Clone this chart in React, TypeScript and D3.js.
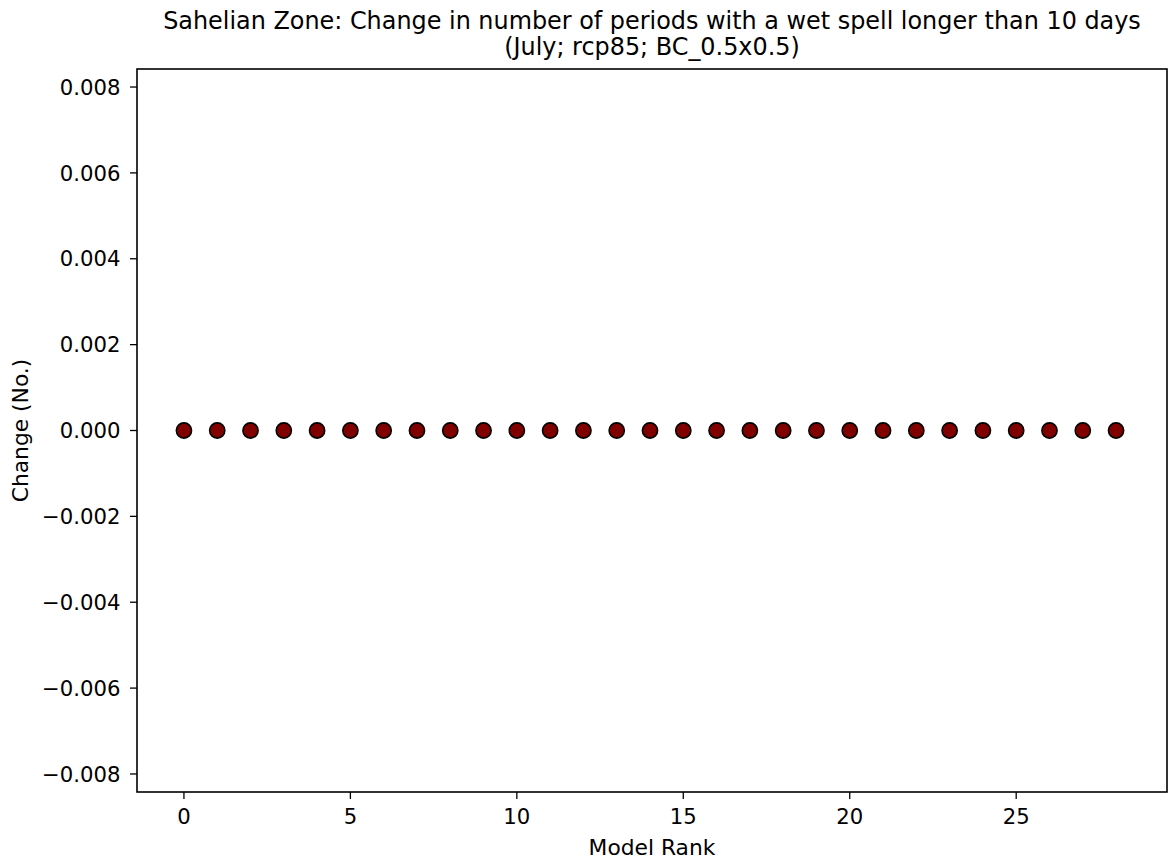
import React from "react";
import * as d3 from "d3";

const modelRanks: number[] = Array.from({ length: 29 }, (_, i) => i);
const changeValues: number[] = [
  0, 0, 0, 0, 0, 0, 0, 0, 0, 0, 0, 0, 0, 0, 0, 0, 0, 0, 0, 0, 0, 0, 0, 0, 0, 0, 0, 0, 0,
];
const xTicks: number[] = [0, 5, 10, 15, 20, 25];
const yTicks: number[] = [-0.008, -0.006, -0.004, -0.002, 0, 0.002, 0.004, 0.006, 0.008];
const titleLines: string[] = [
  "Sahelian Zone: Change in number of periods with a wet spell longer than 10 days",
  "(July; rcp85; BC_0.5x0.5)",
];

const W = 1170;
const H = 861;
const plot = { left: 137, right: 1167, top: 69, bottom: 792 };

export default function App() {
  const x = d3.scaleLinear().domain([-1.41, 29.53]).range([plot.left, plot.right]);
  const y = d3.scaleLinear().domain([-0.00842, 0.00842]).range([plot.bottom, plot.top]);
  const font = "'DejaVu Sans', sans-serif";
  const fmtY = (v: number) => {
    const s = Math.abs(v).toFixed(3);
    return v < 0 ? "\u2212" + s : s;
  };
  const cx = (plot.left + plot.right) / 2;
  return (
    <svg
      width={W}
      height={H}
      style={{ position: "absolute", left: 0, top: 0, background: "#fff" }}
      fontFamily={font}
    >
      <rect x={0} y={0} width={W} height={H} fill="#fff" />
      {titleLines.map((t, i) => (
        <text key={i} x={cx} y={29 + i * 26} textAnchor="middle" fontSize={23.9} fill="#000">
          {t}
        </text>
      ))}
      {yTicks.map((v) => (
        <g key={"y" + v}>
          <line x1={plot.left - 7} x2={plot.left} y1={y(v)} y2={y(v)} stroke="#000" strokeWidth={1.3} />
          <text x={plot.left - 16.5} y={y(v)} dy="0.36em" textAnchor="end" fontSize={21.2} fill="#000">
            {fmtY(v)}
          </text>
        </g>
      ))}
      {xTicks.map((v) => (
        <g key={"x" + v}>
          <line x1={x(v)} x2={x(v)} y1={plot.bottom} y2={plot.bottom + 7} stroke="#000" strokeWidth={1.3} />
          <text x={x(v)} y={plot.bottom + 32} textAnchor="middle" fontSize={21.2} fill="#000">
            {v}
          </text>
        </g>
      ))}
      {modelRanks.map((r, i) => (
        <circle
          key={r}
          cx={x(r)}
          cy={y(changeValues[i])}
          r={7.6}
          fill="#800000"
          stroke="#000"
          strokeWidth={1.6}
        />
      ))}
      <rect
        x={plot.left}
        y={plot.top}
        width={plot.right - plot.left}
        height={plot.bottom - plot.top}
        fill="none"
        stroke="#000"
        strokeWidth={1.6}
      />
      <text x={cx} y={855} textAnchor="middle" fontSize={21.8} fill="#000">
        Model Rank
      </text>
      <text
        transform={`translate(28, ${(plot.top + plot.bottom) / 2}) rotate(-90)`}
        textAnchor="middle"
        fontSize={21.8}
        fill="#000"
      >
        Change (No.)
      </text>
    </svg>
  );
}
